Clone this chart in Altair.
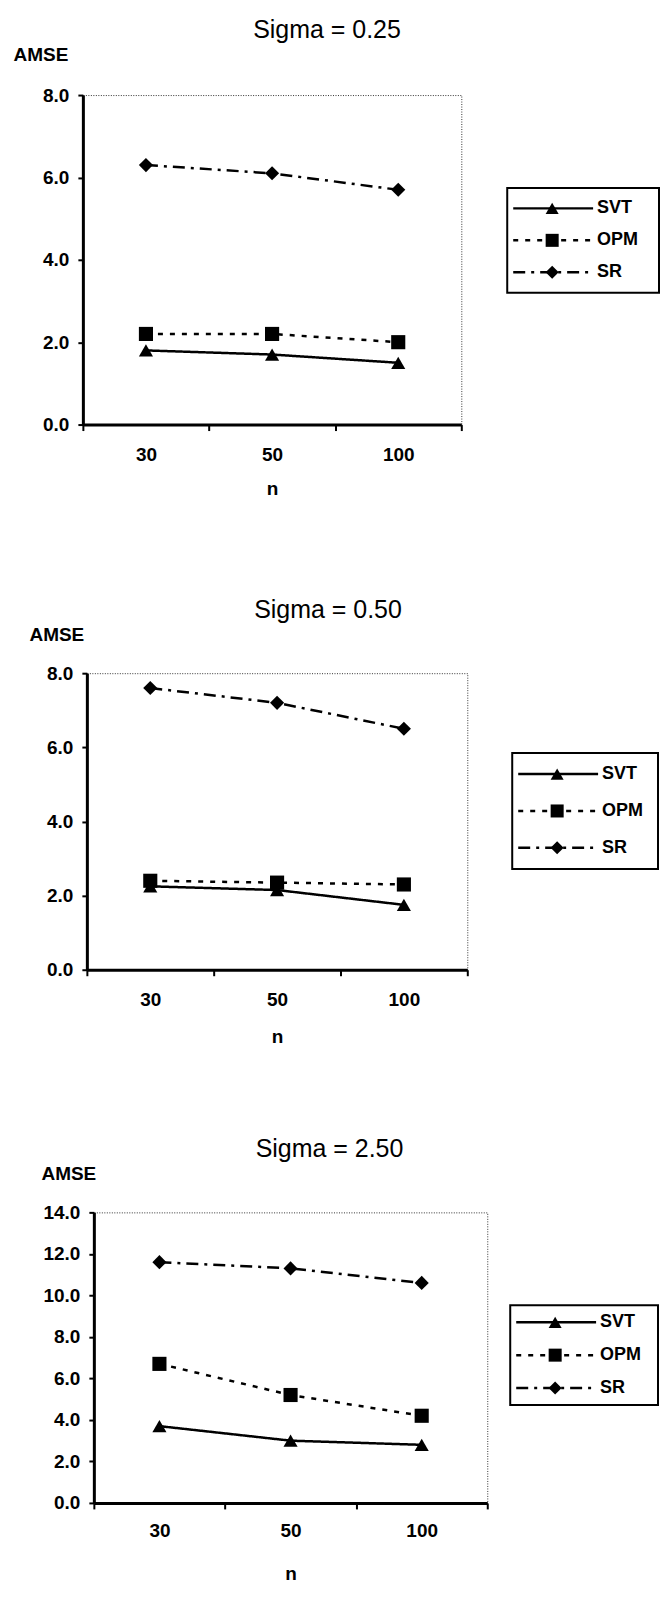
import altair as alt
import pandas as pd

# ---------------- data ----------------
n_labels = ["30", "50", "100"]
series_names = ["SVT", "OPM", "SR"]
panel_titles = ["Sigma = 0.25", "Sigma = 0.50", "Sigma = 2.50"]
y_max = [8, 8, 14]

svt_025 = [1.8, 1.7, 1.5]
opm_025 = [2.2, 2.2, 2.0]
sr_025 = [6.3, 6.1, 5.7]

svt_050 = [2.25, 2.15, 1.75]
opm_050 = [2.4, 2.35, 2.3]
sr_050 = [7.6, 7.2, 6.5]

svt_250 = [3.7, 3.0, 2.8]
opm_250 = [6.7, 5.2, 4.2]
sr_250 = [11.6, 11.3, 10.6]

panel_values = [
    [svt_025, opm_025, sr_025],
    [svt_050, opm_050, sr_050],
    [svt_250, opm_250, sr_250],
]

FONT = "Liberation Sans"
DASHES = [[1, 0], [5, 7], [12, 6, 3, 6]]
SHAPES = ["triangle-up", "square", "diamond"]

dash_scale = alt.Scale(domain=series_names, range=DASHES)
shape_scale = alt.Scale(domain=series_names, range=SHAPES)


def long_df(vals):
    rows = []
    for s, v in zip(series_names, vals):
        for n, a in zip(n_labels, v):
            rows.append({"n": n, "series": s, "AMSE": a})
    return pd.DataFrame(rows)


def spacer(w, h):
    return (
        alt.Chart(pd.DataFrame({"v": [0]}))
        .mark_point(opacity=0, size=1)
        .encode(x=alt.value(w / 2), y=alt.value(h / 2))
        .properties(width=w, height=h, view=alt.ViewBackground(stroke="transparent"))
    )


def panel(i, width, height, amse_x, amse_y, title_dx, title_offset, x_lab_pad, x_title_pad):
    df = long_df(panel_values[i])
    ym = y_max[i]
    x = alt.X(
        "n:N",
        sort=n_labels,
        scale=alt.Scale(type="band", paddingInner=0, paddingOuter=0),
        axis=alt.Axis(
            title="n",
            tickBand="extent",
            labelAngle=0,
            labelPadding=x_lab_pad,
            titlePadding=x_title_pad,
            tickSize=6,
        ),
    )
    y = alt.Y(
        "AMSE:Q",
        scale=alt.Scale(domain=[0, ym], nice=False),
        axis=alt.Axis(
            values=list(range(0, ym + 1, 2)),
            format=".1f",
            title="AMSE",
            titleAngle=0,
            titleX=amse_x,
            titleY=amse_y,
            titleAlign="left",
            titleBaseline="middle",
            grid=False,
            tickSize=5,
            labelPadding=9,
        ),
    )
    base = alt.Chart(df).encode(x=x, y=y)
    lines = base.mark_line(color="black", strokeWidth=2.5).encode(
        strokeDash=alt.StrokeDash("series:N", scale=dash_scale, legend=None),
        detail="series:N",
    )
    pts = base.mark_point(filled=True, color="black", opacity=1, size=200).encode(
        shape=alt.Shape("series:N", scale=shape_scale, legend=None)
    )
    return alt.layer(lines, pts).properties(
        width=width,
        height=height,
        title=alt.TitleParams(
            panel_titles[i],
            anchor="middle",
            dx=title_dx,
            offset=title_offset,
            font=FONT,
            fontSize=25,
            fontWeight="normal",
            color="black",
        ),
        view=alt.ViewBackground(stroke="#333333", strokeDash=[1, 1.5], strokeWidth=1),
    )


def legend(w, h, pad):
    ldf = pd.DataFrame({"series": series_names})
    y = alt.Y("series:N", sort=series_names, scale=alt.Scale(type="point", padding=pad), axis=None)
    rule = alt.Chart(ldf).mark_rule(color="black", strokeWidth=2.5).encode(
        y=y,
        x=alt.value(6),
        x2=alt.value(86),
        strokeDash=alt.StrokeDash("series:N", scale=dash_scale, legend=None),
    )
    pt = alt.Chart(ldf).mark_point(filled=True, color="black", opacity=1, size=170).encode(
        y=y, x=alt.value(45), shape=alt.Shape("series:N", scale=shape_scale, legend=None)
    )
    txt = alt.Chart(ldf).mark_text(
        align="left", baseline="middle", font=FONT, fontSize=18, fontWeight="bold", color="black"
    ).encode(y=y, x=alt.value(90), text="series:N")
    return alt.layer(rule, pt, txt).properties(
        width=w, height=h, view=alt.ViewBackground(stroke="black", strokeWidth=2)
    )


def row(left_w, plot, mid_w, leg_top, leg):
    leg_col = alt.vconcat(spacer(10, leg_top), leg, spacing=0, bounds="flush")
    return alt.hconcat(spacer(left_w, 10), plot, spacer(mid_w, 10), leg_col, spacing=0, bounds="flush")


p1 = panel(0, 379, 330, -70, -41, 55, 2, 15, 15)
p2 = panel(1, 381, 297, -58, -39, 51, 2, 15, 18)
p3 = panel(2, 394, 291, -53, -39, 39, 2, 13, 24)

r1 = row(70, p1, 46, 93, legend(152, 105, 0.64))
r2 = row(74, p2, 45, 80, legend(146, 116, 0.57))
r3 = row(81, p3, 23, 93, legend(148, 100, 0.52))

chart = alt.vconcat(
    spacer(10, 93), r1, spacer(10, 579), r2, spacer(10, 540), r3,
    spacing=0, bounds="flush",
).properties(
    padding={"left": 12, "top": 0, "right": 0, "bottom": 0}
).configure_axis(
    domainColor="black",
    domainWidth=3,
    tickColor="black",
    tickWidth=2,
    labelFont=FONT,
    labelFontSize=19,
    labelFontWeight="bold",
    labelColor="black",
    titleFont=FONT,
    titleFontSize=19,
    titleFontWeight="bold",
    titleColor="black",
)

chart.save("out.html", embed_options={"renderer": "svg", "actions": False})
